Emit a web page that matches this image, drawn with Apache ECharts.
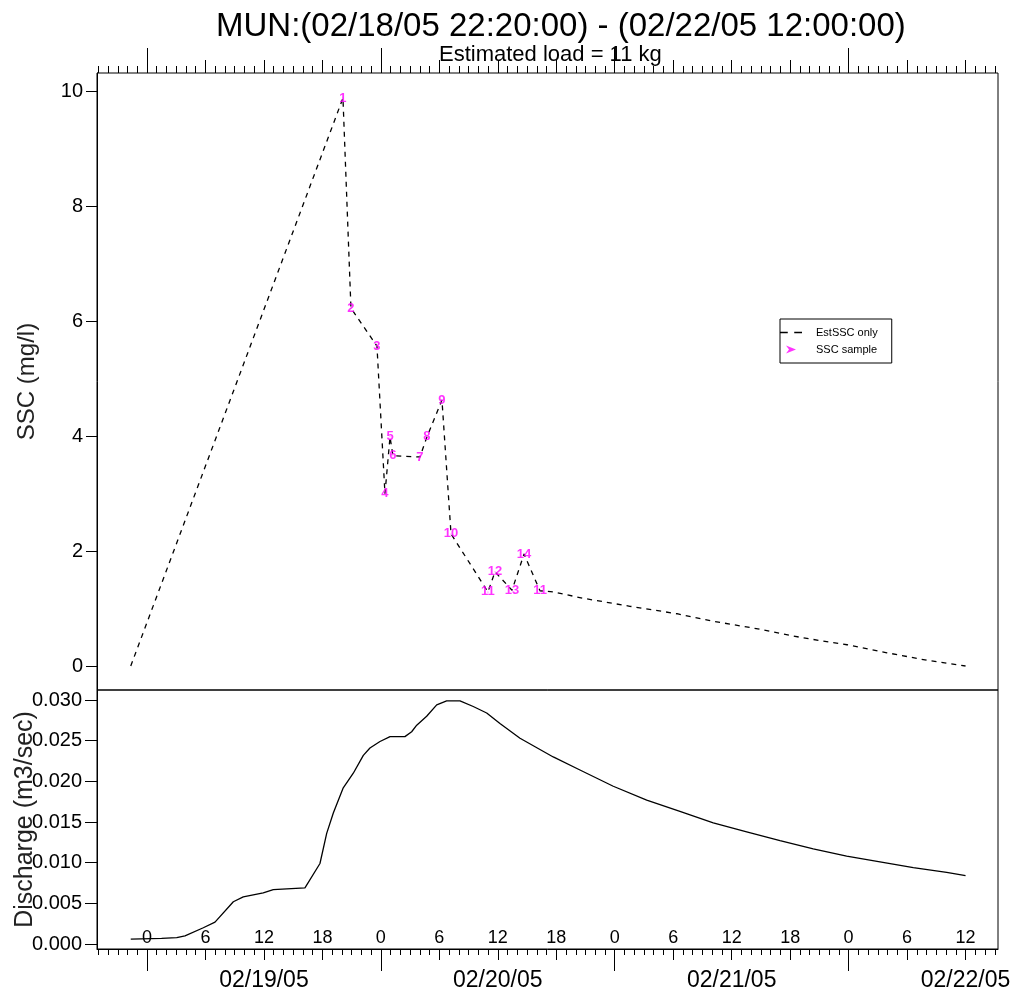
<!DOCTYPE html>
<html>
<head>
<meta charset="utf-8">
<title>MUN SSC / Discharge</title>
<script src="https://cdn.jsdelivr.net/npm/echarts@6/dist/echarts.min.js"></script>
<style>
html, body { margin: 0; padding: 0; background: #fff; }
#chartBox { width: 1013px; height: 991px; }
</style>
</head>
<body>
<div id="chartBox"></div>
<script>
// all times are hours after 02/19/05 00:00
var estHours = [-1.667, 20.11, 20.93, 23.60, 24.42, 24.94, 25.24, 28.01, 28.73, 30.27, 31.20, 34.99, 35.71, 37.46, 38.69, 40.33,
  41.66, 44.74, 49.56, 54.39, 58.08, 62.90, 67.32, 71.83, 75.94, 80.04, 84.0];
var estSSC = [0, 9.89, 6.23, 5.57, 3.00, 3.99, 3.66, 3.64, 3.99, 4.63, 2.30, 1.29, 1.64, 1.32, 1.95, 1.31,
  1.29, 1.18, 1.04, 0.91, 0.78, 0.64, 0.49, 0.37, 0.23, 0.10, 0.0];

var sampleHours = [20.11, 20.93, 23.60, 24.42, 24.94, 25.24, 28.01, 28.73, 30.27, 31.20, 34.99, 35.71, 37.46, 38.69, 40.33];
var sampleSSC = [9.89, 6.23, 5.57, 3.00, 3.99, 3.66, 3.64, 3.99, 4.63, 2.30, 1.29, 1.64, 1.32, 1.95, 1.31];
var sampleLabels = ['1', '2', '3', '4', '5', '6', '7', '8', '9', '10', '11', '12', '13', '14', '11'];

var flowHours = [-1.667, 1.5, 3.05, 3.90, 5.78, 6.98, 8.86, 9.88, 11.93, 12.96, 16.21, 17.75, 18.44, 19.12, 20.14, 21.17,
  22.20, 22.88, 23.91, 24.94, 26.47, 27.16, 27.68, 28.70, 29.73, 30.75, 32.12, 33.48, 34.86, 36.22, 38.28,
  41.69, 44.43, 47.85, 51.28, 54.69, 58.11, 61.54, 64.96, 68.37, 71.80, 75.22, 78.64, 82.06, 84.0];
var flowValues = [0.0006, 0.0007, 0.0008, 0.0010, 0.0020, 0.0027, 0.0052, 0.0058, 0.0063, 0.0067, 0.0069, 0.0099, 0.0136, 0.0161, 0.0192, 0.0210,
  0.0232, 0.0241, 0.0249, 0.0255, 0.0255, 0.0261, 0.0269, 0.0280, 0.0294, 0.0299, 0.0299, 0.0292, 0.0284, 0.0271, 0.0253,
  0.0230, 0.0214, 0.0194, 0.0177, 0.0163, 0.0149, 0.0138, 0.0127, 0.0117, 0.0108, 0.0101, 0.0094, 0.0088, 0.0084];

var sscTicks = [0, 2, 4, 6, 8, 10];
var flowTicks = [0, 0.005, 0.010, 0.015, 0.020, 0.025, 0.030];
var sixHourTicks = [0, 6, 12, 18, 24, 30, 36, 42, 48, 54, 60, 66, 72, 78, 84];
var dayTicks = [0, 24, 48, 72];
var dateLabelHours = [12, 36, 60, 84];
var dateLabels = ['02/19/05', '02/20/05', '02/21/05', '02/22/05'];

var X_MIN = -5.13, X_MAX = 87.33;
var FONT = 'Liberation Sans, Arial, sans-serif';

var hourTicks = [];
for (var h = -5; h <= 87; h++) hourTicks.push(h);

function pairs(xs, ys) {
  return xs.map(function (x, i) { return [x, ys[i]]; });
}

// one x axis of the stack (ticks of one length per axis)
function timeAxis(grid, pos, ticks, len, extra) {
  var ax = {
    type: 'value', gridIndex: grid, position: pos, min: X_MIN, max: X_MAX,
    splitLine: { show: false },
    axisLine: { show: false, onZero: false },
    axisTick: { show: true, inside: false, length: len, customValues: ticks, lineStyle: { color: '#000', width: 1 } },
    axisLabel: { show: false }
  };
  return Object.assign(ax, extra || {});
}

var chart = echarts.init(document.getElementById('chartBox'));

var option = {
  animation: false,
  backgroundColor: '#fff',
  textStyle: { fontFamily: FONT, color: '#000' },
  title: [
    { text: 'MUN:(02/18/05 22:20:00) - (02/22/05 12:00:00)', left: 211, top: 5,
      textStyle: { fontSize: 33, fontWeight: 'normal', color: '#000', fontFamily: FONT } },
    { text: 'Estimated load = 11 kg', left: 434, top: 39,
      textStyle: { fontSize: 22, fontWeight: 'normal', color: '#000', fontFamily: FONT } }
  ],
  legend: {
    data: [
      { name: 'EstSSC only', icon: 'path://M0,0h6v1.2h-6z M11,0h6v1.2h-6z' },
      { name: 'SSC sample', icon: 'path://M0,0L10,4L0,8L3,4Z' }
    ],
    orient: 'vertical', left: 780, top: 319,
    backgroundColor: '#fff', borderColor: '#000', borderWidth: 1,
    padding: [8, 14, 8, 0], itemWidth: 22, itemHeight: 8, itemGap: 6,
    textStyle: { fontSize: 11, color: '#000', fontFamily: FONT, padding: [0, 0, 0, 9] }
  },
  grid: [
    { left: 97, right: 15, top: 73, height: 617, outerBoundsMode: 'none', show: true, borderColor: '#000', borderWidth: 1, backgroundColor: 'transparent' },
    { left: 97, right: 15, top: 690, height: 259, outerBoundsMode: 'none', show: true, borderColor: '#000', borderWidth: 1, backgroundColor: 'transparent' }
  ],
  xAxis: [
    timeAxis(0, 'top', hourTicks, 7),
    timeAxis(0, 'top', sixHourTicks, 13),
    timeAxis(0, 'top', dayTicks, 25),
    timeAxis(1, 'bottom', hourTicks, 6, { axisLine: { show: true, onZero: false, lineStyle: { color: '#000', width: 1 } } }),
    timeAxis(1, 'bottom', sixHourTicks, 11, {
      axisLabel: { show: true, inside: true, margin: 2, fontSize: 18, color: '#000', fontFamily: FONT,
        customValues: sixHourTicks,
        formatter: function (v) { return String(((v % 24) + 24) % 24); } }
    }),
    timeAxis(1, 'bottom', dayTicks, 22, {
      axisLabel: { show: true, margin: 20, fontSize: 23, color: '#000', fontFamily: FONT,
        customValues: dateLabelHours,
        formatter: function (v) { return dateLabels[dateLabelHours.indexOf(v)]; } }
    })
  ],
  yAxis: [
    {
      type: 'value', gridIndex: 0, position: 'left', min: -0.418, max: 10.326,
      name: 'SSC (mg/l)', nameLocation: 'middle', nameRotate: 90, nameGap: 58, nameMoveOverlap: false,
      nameTextStyle: { fontSize: 24, color: '#222', fontFamily: FONT },
      splitLine: { show: false },
      axisLine: { show: true, onZero: false, lineStyle: { color: '#000' } },
      axisTick: { show: true, length: 11, customValues: sscTicks, lineStyle: { color: '#000' } },
      axisLabel: { margin: 14, fontSize: 20, color: '#000', fontFamily: FONT, customValues: sscTicks }
    },
    {
      type: 'value', gridIndex: 1, position: 'left', min: -0.00061, max: 0.03123,
      name: 'Discharge (m3/sec)', nameLocation: 'middle', nameRotate: 90, nameGap: 59, nameMoveOverlap: false,
      nameTextStyle: { fontSize: 25, color: '#222', fontFamily: FONT },
      splitLine: { show: false },
      axisLine: { show: true, onZero: false, lineStyle: { color: '#000' } },
      axisTick: { show: true, length: 12, customValues: flowTicks, lineStyle: { color: '#000' } },
      axisLabel: { margin: 15, fontSize: 20, color: '#000', fontFamily: FONT, customValues: flowTicks,
        formatter: function (v) { return v.toFixed(3); } }
    }
  ],
  series: [
    {
      name: 'EstSSC only', type: 'line', xAxisIndex: 0, yAxisIndex: 0,
      data: pairs(estHours, estSSC), symbol: 'none',
      lineStyle: { color: '#000', width: 1.3, type: [5, 5] },
      itemStyle: { color: '#000' }
    },
    {
      name: 'SSC sample', type: 'scatter', xAxisIndex: 0, yAxisIndex: 0,
      data: pairs(sampleHours, sampleSSC), symbol: 'circle', symbolSize: 1,
      itemStyle: { color: '#ff00ff' },
      label: { show: true, position: 'inside', fontSize: 13, fontWeight: 'bold', color: '#ff00ff', fontFamily: FONT,
        formatter: function (p) { return sampleLabels[p.dataIndex]; } },
      z: 5
    },
    {
      name: 'Discharge', type: 'line', xAxisIndex: 3, yAxisIndex: 1,
      data: pairs(flowHours, flowValues), symbol: 'none',
      lineStyle: { color: '#000', width: 1.3 }
    }
  ]
};

chart.setOption(option);
</script>
</body>
</html>
